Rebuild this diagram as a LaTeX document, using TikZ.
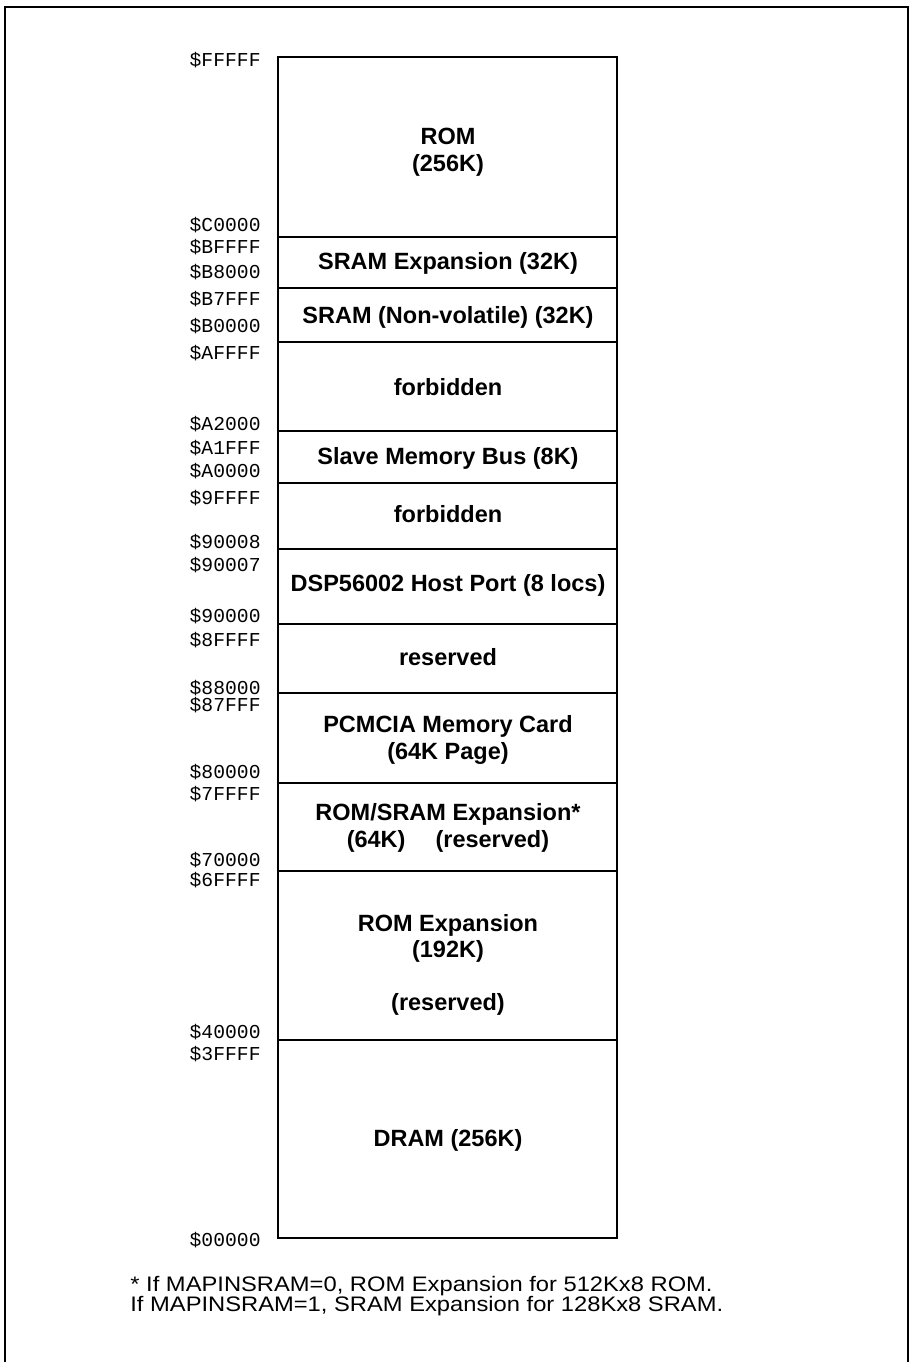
\documentclass[tikz,border=0pt]{standalone}
\usepackage{fontspec}
\setmainfont{Liberation Sans}
\newfontfamily\addrfont{Liberation Mono}
\newfontfamily\notefont{Liberation Sans}[FakeStretch=1.13]
\begin{document}
\begin{tikzpicture}[x=0.5pt,y=-0.5pt,
  addr/.style={anchor=east,inner sep=0pt,font=\addrfont\fontsize{9.85}{10}\selectfont},
  region/.style={font=\bfseries\fontsize{11.75}{13.25}\selectfont,align=center,inner sep=0pt},
  note/.style={anchor=west,inner sep=0pt,font=\notefont\fontsize{10.5}{11}\selectfont},
  frame/.style={line width=1pt},
  memline/.style={line width=1pt}]
\useasboundingbox (0,0) rectangle (911,1362);
% outer frame (open at the bottom)
\draw[frame] (5,1362) -- (5,7) -- (908,7) -- (908,1362);
% memory map column
\draw[memline] (278,57) rectangle (617,1238);
\foreach \y in {237,288,342,431,483,549,624,693,783,871,1040}
  \draw[memline] (278,\y) -- (617,\y);
% region names
\node[region] (rom)    at (448,152)  {ROM\\(256K)};
\node[region] (sramx)  at (448,263)  {SRAM Expansion (32K)};
\node[region] (sramnv) at (448,317)  {SRAM (Non-volatile) (32K)};
\node[region] (forb1)  at (448,387)  {forbidden};
\node[region] (slave)  at (448,458)  {Slave Memory Bus (8K)};
\node[region] (forb2)  at (448,514)  {forbidden};
\node[region] (dsp)    at (448,585)  {DSP56002 Host Port (8 locs)};
\node[region] (resv)   at (448,657)  {reserved};
\node[region] (pcmcia) at (448,740)  {PCMCIA Memory Card\\(64K Page)};
\node[region] (romsram) at (448,828) {ROM/SRAM Expansion*\\(64K)\quad\ (reserved)};
\node[region] (romx)   at (448,965)  {ROM Expansion\\(192K)\\[13.25pt](reserved)};
\node[region] (dram)   at (448,1140) {DRAM (256K)};
% addresses
\node[addr] (aFFFFF) at (261,60)   {\$FFFFF};
\node[addr] (aC0000) at (261,225)  {\$C0000};
\node[addr] (aBFFFF) at (261,247)  {\$BFFFF};
\node[addr] (aB8000) at (261,272)  {\$B8000};
\node[addr] (aB7FFF) at (261,299)  {\$B7FFF};
\node[addr] (aB0000) at (261,326)  {\$B0000};
\node[addr] (aAFFFF) at (261,353)  {\$AFFFF};
\node[addr] (aA2000) at (261,424)  {\$A2000};
\node[addr] (aA1FFF) at (261,448)  {\$A1FFF};
\node[addr] (aA0000) at (261,471)  {\$A0000};
\node[addr] (a9FFFF) at (261,498)  {\$9FFFF};
\node[addr] (a90008) at (261,542)  {\$90008};
\node[addr] (a90007) at (261,565)  {\$90007};
\node[addr] (a90000) at (261,616)  {\$90000};
\node[addr] (a8FFFF) at (261,640)  {\$8FFFF};
\node[addr] (a88000) at (261,688)  {\$88000};
\node[addr] (a87FFF) at (261,705)  {\$87FFF};
\node[addr] (a80000) at (261,772)  {\$80000};
\node[addr] (a7FFFF) at (261,794)  {\$7FFFF};
\node[addr] (a70000) at (261,860)  {\$70000};
\node[addr] (a6FFFF) at (261,880)  {\$6FFFF};
\node[addr] (a40000) at (261,1032) {\$40000};
\node[addr] (a3FFFF) at (261,1054) {\$3FFFF};
\node[addr] (a00000) at (261,1240) {\$00000};
% footnote
\node[note] (fn1) at (130,1286) {* If MAPINSRAM=0, ROM Expansion for 512Kx8 ROM.};
\node[note] (fn2) at (130,1306) {If MAPINSRAM=1, SRAM Expansion for 128Kx8 SRAM.};
\end{tikzpicture}
\end{document}
